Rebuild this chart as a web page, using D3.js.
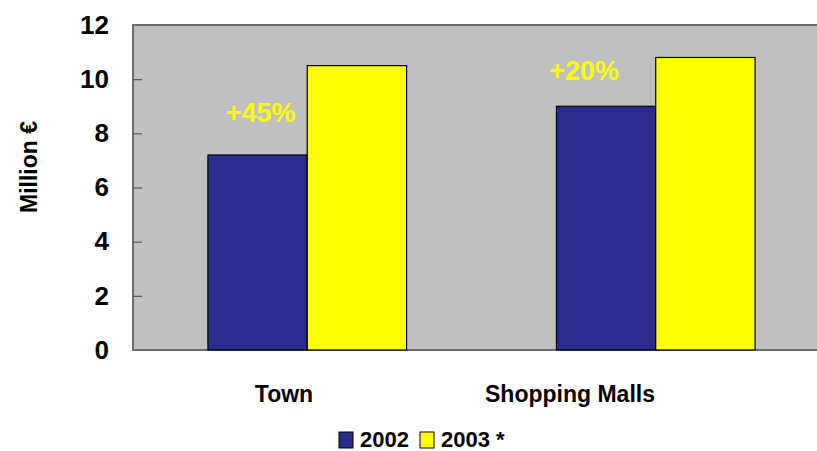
<!DOCTYPE html>
<html>
<head>
<meta charset="utf-8">
<script src="https://cdn.jsdelivr.net/npm/d3@7"></script>
<style>
  html, body { margin: 0; padding: 0; background: #fff; overflow: hidden; }
  svg { display: block; font-family: "Liberation Sans", Arial, sans-serif; }
</style>
</head>
<body>
<svg id="chart" width="817" height="451"></svg>
<script>
// Sales by location, million euro
const categories = ["Town", "Shopping Malls"];
const seriesNames = ["2002", "2003 *"];
const values2002 = [7.2, 9.0];
const values2003 = [10.5, 10.8];
const growthLabels = ["+45%", "+20%"];
const yTicks = [0, 2, 4, 6, 8, 10, 12];
const colors = ["#2B2B8F", "#FFFF00"];

const svg = d3.select("#chart");
const W = 817, H = 451;
const plot = { left: 133, top: 25, right: 830, bottom: 350 };

const x = d3.scaleBand()
  .domain(categories)
  .range([plot.left, plot.right])
  .paddingInner(0.43)
  .paddingOuter(0.215);

const xSub = d3.scaleBand()
  .domain(seriesNames)
  .range([0, x.bandwidth()]);

const y = d3.scaleLinear()
  .domain([0, 12])
  .range([plot.bottom, plot.top]);

// category label positions along the axis
const xLabel = d3.scalePoint()
  .domain(categories)
  .range([284, 570]);

svg.append("clipPath").attr("id", "clip")
  .append("rect").attr("x", 0).attr("y", 0).attr("width", W).attr("height", H);

const g = svg.append("g").attr("clip-path", "url(#clip)");

// plot area
g.append("rect")
  .attr("x", plot.left).attr("y", plot.top)
  .attr("width", plot.right - plot.left)
  .attr("height", plot.bottom - plot.top)
  .attr("fill", "#C0C0C0")
  .attr("stroke", "#6E6E6E")
  .attr("stroke-width", 2);

// bars
const rows = categories.map((c, i) => ({
  category: c,
  bars: [
    { series: seriesNames[0], value: values2002[i], color: colors[0] },
    { series: seriesNames[1], value: values2003[i], color: colors[1] }
  ]
}));

const groups = g.selectAll("g.cat")
  .data(rows)
  .join("g")
  .attr("class", "cat")
  .attr("transform", d => `translate(${x(d.category)},0)`);

groups.selectAll("rect")
  .data(d => d.bars)
  .join("rect")
  .attr("x", d => xSub(d.series))
  .attr("y", d => y(d.value))
  .attr("width", xSub.bandwidth())
  .attr("height", d => y(0) - y(d.value))
  .attr("fill", d => d.color)
  .attr("stroke", "#000")
  .attr("stroke-width", 1.2);

// y axis with inward ticks
const yAxis = d3.axisLeft(y)
  .tickValues(yTicks)
  .tickSize(-9)
  .tickPadding(24)
  .tickFormat(d3.format("d"));

const ya = svg.append("g")
  .attr("transform", `translate(${plot.left},0)`)
  .call(yAxis);
ya.select(".domain").remove();
ya.selectAll(".tick line").attr("stroke", "#555").attr("stroke-width", 1.2)
  .filter(d => d === 0 || d === 12).remove();
ya.selectAll(".tick text")
  .attr("font-size", 26)
  .attr("font-weight", "bold")
  .attr("fill", "#000")
  .attr("font-family", "'Liberation Sans', Arial, sans-serif");

// y axis title
svg.append("text")
  .attr("transform", "translate(37,167) rotate(-90)")
  .attr("text-anchor", "middle")
  .attr("font-size", 23)
  .attr("font-weight", "bold")
  .text("Million €");

// category labels
svg.selectAll("text.cat")
  .data(categories)
  .join("text")
  .attr("class", "cat")
  .attr("x", d => xLabel(d))
  .attr("y", 402)
  .attr("text-anchor", "middle")
  .attr("font-size", 23)
  .attr("font-weight", "bold")
  .text(d => d);

// growth labels above the 2002 bars
svg.selectAll("text.growth")
  .data(rows)
  .join("text")
  .attr("class", "growth")
  .attr("x", (d, i) => i === 0 ? x(d.category) + xSub.bandwidth() / 2 + 3 : x(d.category) + xSub.bandwidth() / 2 - 22)
  .attr("y", (d, i) => y(d.bars[0].value) - (i === 0 ? 33 : 26))
  .attr("text-anchor", "middle")
  .attr("font-size", 27)
  .attr("font-weight", "bold")
  .attr("fill", "#FFFF00")
  .text((d, i) => growthLabels[i]);

// legend
const legend = svg.append("g").attr("transform", "translate(339,432)");
const items = legend.selectAll("g")
  .data(seriesNames)
  .join("g")
  .attr("transform", (d, i) => `translate(${i * 81},0)`);
items.append("rect")
  .attr("width", 14).attr("height", 16)
  .attr("fill", (d, i) => colors[i])
  .attr("stroke", "#000").attr("stroke-width", 1);
items.append("text")
  .attr("x", 21).attr("y", 15)
  .attr("font-size", 22)
  .attr("font-weight", "bold")
  .text(d => d);
</script>
</body>
</html>
